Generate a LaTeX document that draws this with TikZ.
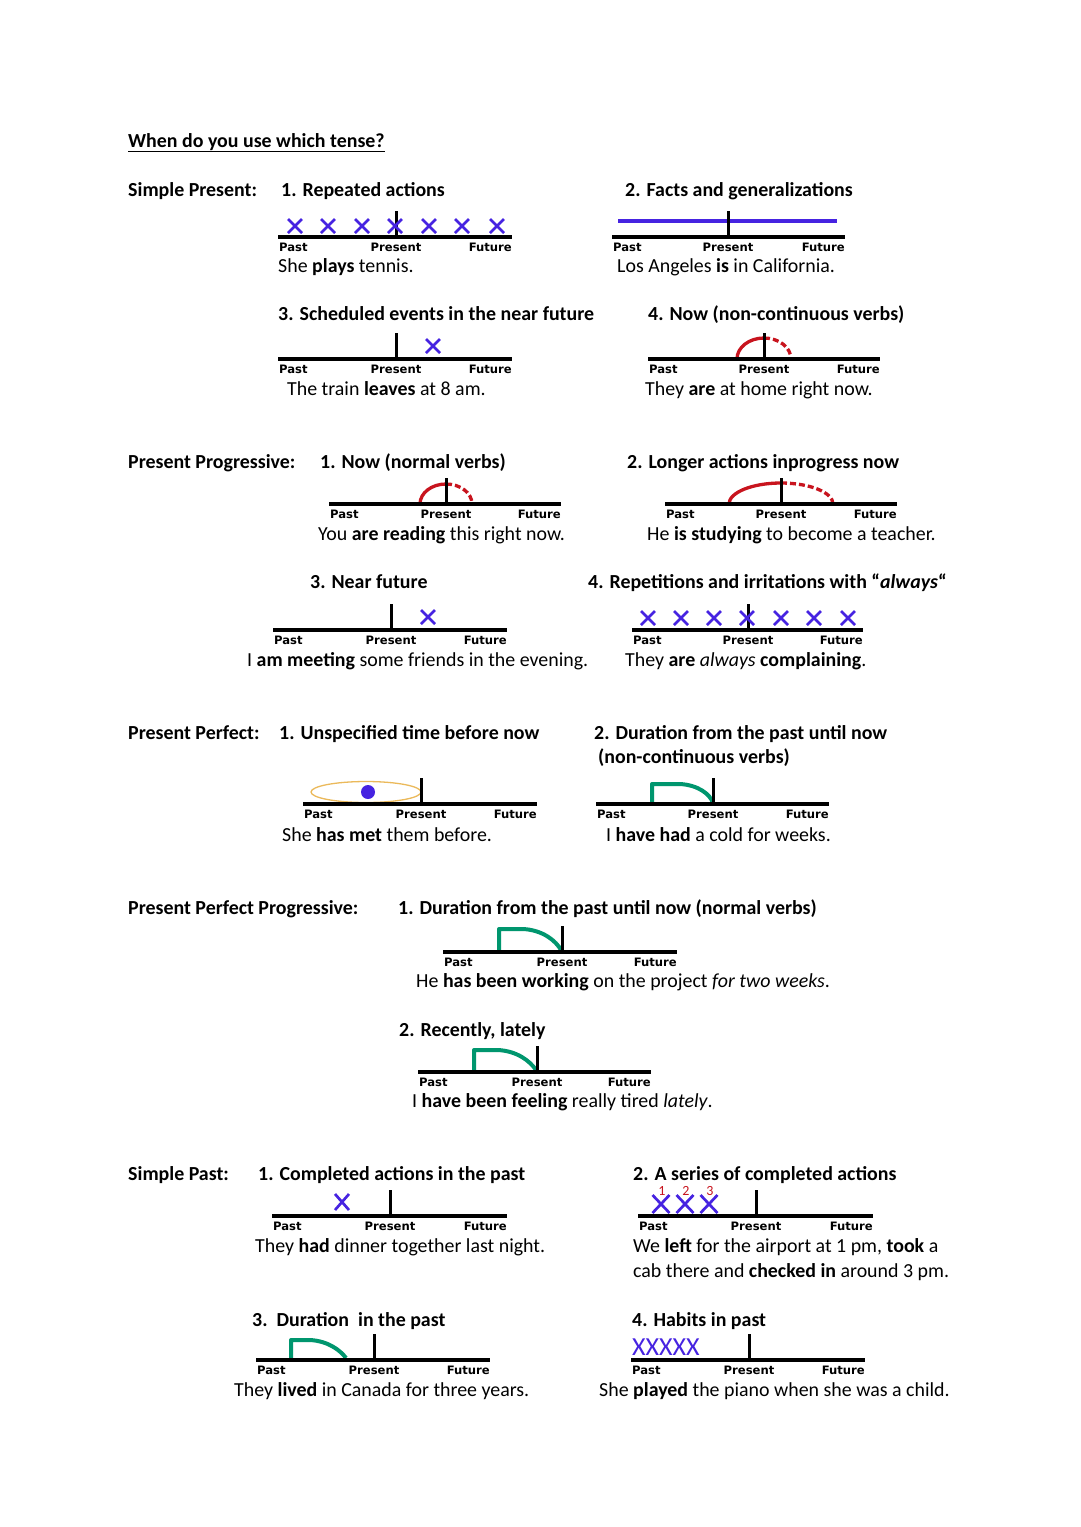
\documentclass[tikz,border=0pt]{standalone}
\usepackage{fontspec}
\setmainfont{Carlito}
\newfontfamily\labfont{DejaVu Sans}
\definecolor{xblue}{RGB}{70,35,225}
\definecolor{arcred}{RGB}{200,20,30}
\definecolor{dgreen}{RGB}{0,150,110}
\definecolor{ellor}{RGB}{235,185,90}
\newcommand\tline[5]{%
  \draw[tlbar] (#2,#5) -- (#3,#5);
  \draw[tlmark] (#4,{#5-26}) -- (#4,#5);
  \node[tllab,anchor=base west] (#1past) at ({#2+1},{#5+14}) {Past};
  \node[tllab,anchor=base] (#1pres) at (#4,{#5+14}) {Present};
  \node[tllab,anchor=base east] (#1fut) at (#3,{#5+14}) {Future};
}
\newcommand\xmk[4]{%
  \draw[xm] ({#1-#3},{#2-#4}) -- ({#1+#3},{#2+#4}) ({#1-#3},{#2+#4}) -- ({#1+#3},{#2-#4});
}
\begin{document}
\begin{tikzpicture}[x=1pt,y=-1pt,
 txt/.style={anchor=base west,inner sep=0pt,font=\fontsize{19.9}{23}\selectfont},
 hd/.style={anchor=base west,inner sep=0pt,font=\fontsize{19.9}{23}\selectfont\bfseries},
 tllab/.style={inner sep=0pt,font=\labfont\bfseries\fontsize{11.6}{14}\selectfont},
 tlbar/.style={line width=3.5pt},
 tlmark/.style={line width=3pt},
 xm/.style={xblue,line width=2.7pt},
 arcs/.style={arcred,line width=3.3pt},
 arcd/.style={arcred,line width=3.3pt,dash pattern=on 6pt off 3pt},
 dur/.style={dgreen,line width=4pt,line join=round},
 num/.style={inner sep=0pt,text=arcred,font=\fontsize{14}{15}\selectfont},
 xtxt/.style={anchor=base west,inner sep=0pt,text=xblue,font=\fontsize{26}{28}\selectfont}]
\useasboundingbox (0,0) rectangle (1080,1527);
\fill[white] (0,0) rectangle (1080,1527);

% Title
\node[hd] (title) at (128,147) {\underline{When do you use which tense?}};

% Simple Present
\node[hd] (sp) at (128,196) {Simple Present:};
\node[hd] (sp1) at (281,196) {1. Repeated actions};
\node[hd] (sp2) at (625,196) {2. Facts and generalizations};
\tline{a}{278}{512}{396}{237}
\foreach \xx in {295,328,362,395,429,462,497} {\xmk{\xx}{226}{7}{7}}
\node[txt] (sa) at (278,272) {She \textbf{plays} tennis.};
\draw[xblue,line width=4pt] (618,221) -- (837,221);
\tline{b}{612}{845}{728}{237}
\node[txt] (sb) at (617,272) {Los Angeles \textbf{is} in California.};

\node[hd] (sp3) at (278,320) {3. Scheduled events in the near future};
\node[hd] (sp4) at (648,320) {4. Now (non-continuous verbs)};
\tline{c}{278}{512}{396}{359}
\xmk{433}{346}{7}{7}
\node[txt] (sc) at (287,395) {The train \textbf{leaves} at 8 am.};
\draw[arcs] (737,359) arc[start angle=180,end angle=270,x radius=27,y radius=21];
\draw[arcd] (764,338) arc[start angle=270,end angle=360,x radius=27,y radius=21];
\tline{d}{648}{880}{764}{359}
\node[txt] (sd) at (645,395) {They \textbf{are} at home right now.};

% Present Progressive
\node[hd] (pp) at (128,468) {Present Progressive:};
\node[hd] (pp1) at (320,468) {1. Now (normal verbs)};
\node[hd] (pp2) at (627,468) {2. Longer actions inprogress now};
\draw[arcs] (420,504) arc[start angle=180,end angle=270,x radius=26,y radius=20];
\draw[arcd] (446,484) arc[start angle=270,end angle=360,x radius=26,y radius=20];
\tline{e}{329}{561}{446}{504}
\node[txt] (se) at (318,540) {You \textbf{are reading} this right now.};
\draw[arcs] (729,504) arc[start angle=180,end angle=270,x radius=52,y radius=21];
\draw[arcd] (781,483) arc[start angle=270,end angle=360,x radius=52,y radius=21];
\tline{f}{665}{897}{781}{504}
\node[txt] (sf) at (647,540) {He \textbf{is studying} to become a teacher.};

\node[hd] (pp3) at (310,588) {3. Near future};
\node[hd] (pp4) at (588,588) {4. Repetitions and irritations with “\textit{always}“};
\tline{g}{273}{507}{391}{630}
\xmk{428}{617}{7}{7}
\node[txt] (sg) at (247,666) {I \textbf{am meeting} some friends in the evening.};
\tline{h}{632}{863}{748}{630}
\foreach \xx in {648,681,714,747,781,814,848} {\xmk{\xx}{618}{7}{7}}
\node[txt] (sh) at (625,666) {They \textbf{are} \textit{always} \textbf{complaining}.};

% Present Perfect
\node[hd] (pf) at (128,739) {Present Perfect:};
\node[hd] (pf1) at (279,739) {1. Unspecified time before now};
\node[hd] (pf2) at (594,739) {2. Duration from the past until now};
\node[hd] (pf2b) at (598,763) {(non-continuous verbs)};
\draw[ellor,line width=1.3pt] (366,792) ellipse[x radius=55,y radius=10.5];
\fill[xblue] (368,792) circle[radius=7];
\tline{i}{303}{537}{421}{804}
\node[txt] (si) at (282,841) {She \textbf{has met} them before.};
\draw[dur] (652,802) -- (652,784) -- (680,784) .. controls (698,785) and (710,794) .. (713,803);
\tline{j}{596}{829}{713}{804}
\node[txt] (sj) at (606,841) {I \textbf{have had} a cold for weeks.};

% Present Perfect Progressive
\node[hd] (ppp) at (128,914) {Present Perfect Progressive:};
\node[hd] (ppp1) at (398,914) {1. Duration from the past until now (normal verbs)};
\draw[dur] (499,950) -- (499,929) -- (523,929) .. controls (543,930) and (556,941) .. (561,950);
\tline{k}{443}{677}{562}{952}
\node[txt] (sk) at (416,987) {He \textbf{has been working} on the project \textit{for two weeks}.};
\node[hd] (ppp2) at (399,1036) {2. Recently, lately};
\draw[dur] (474,1070) -- (474,1050) -- (498,1050) .. controls (517,1051) and (530,1061) .. (536,1070);
\tline{l}{418}{651}{537}{1072}
\node[txt] (sl) at (412,1107) {I \textbf{have been feeling} really tired \textit{lately}.};

% Simple Past
\node[hd] (spa) at (128,1180) {Simple Past:};
\node[hd] (spa1) at (258,1180) {1. Completed actions in the past};
\node[hd] (spa2) at (633,1180) {2. A series of completed actions};
\tline{m}{272}{507}{390}{1216}
\xmk{342}{1202}{7}{8}
\node[txt] (sm) at (255,1252) {They \textbf{had} dinner together last night.};
\tline{n}{638}{873}{756}{1216}
\xmk{661}{1204}{8.5}{9}
\xmk{685}{1204}{8.5}{9}
\xmk{709}{1204}{8.5}{9}
\node[num] (n1) at (662,1191) {1};
\node[num] (n2) at (686,1191) {2};
\node[num] (n3) at (710,1191) {3};
\node[txt] (sn1) at (633,1252) {We \textbf{left} for the airport at 1 pm, \textbf{took} a};
\node[txt] (sn2) at (633,1277) {cab there and \textbf{checked in} around 3 pm.};

\node[hd] (spa3) at (252,1326) {3.\ \ Duration\ \ in the past};
\node[hd] (spa4) at (632,1326) {4. Habits in past};
\draw[dur] (291,1358) -- (291,1340) -- (310,1340) .. controls (328,1341) and (340,1350) .. (346,1358);
\tline{o}{256}{490}{374}{1360}
\node[txt] (so) at (234,1396) {They \textbf{lived} in Canada for three years.};
\tline{p}{631}{865}{749}{1360}
\node[xtxt] (xs) at (632,1355) {XXXXX};
\node[txt] (sq) at (599,1396) {She \textbf{played} the piano when she was a child.};
\end{tikzpicture}
\end{document}
